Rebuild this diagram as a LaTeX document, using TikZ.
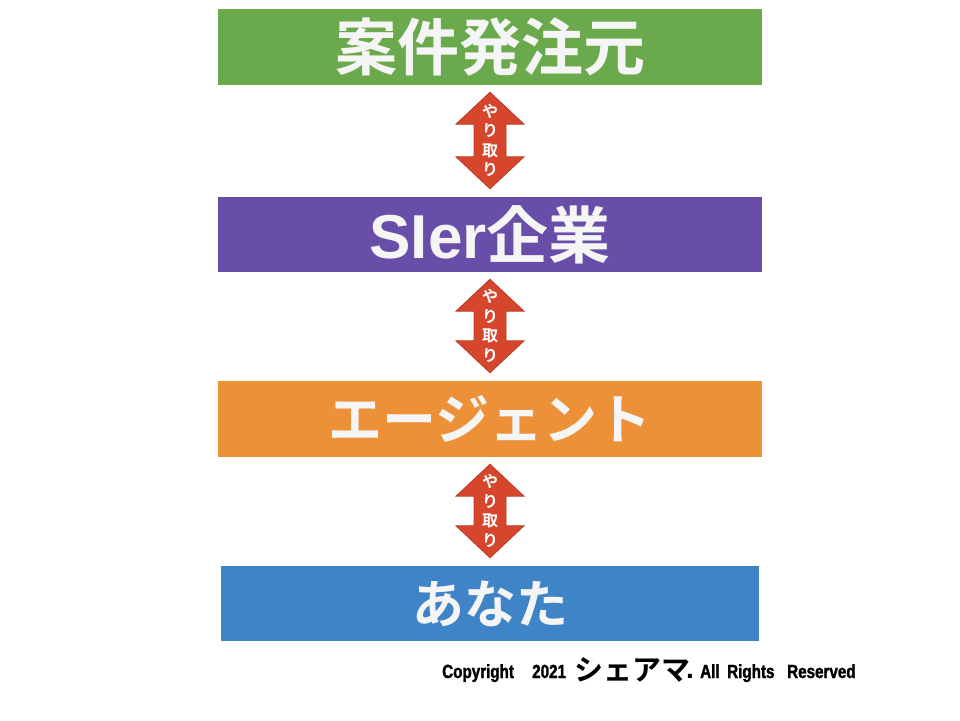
\documentclass[tikz,border=0pt]{standalone}
\usepackage{fontspec}
\usetikzlibrary{calc}
\newfontfamily\cjkb{Noto Sans CJK JP}[UprightFont=* Bold]
\newfontfamily\lsb{Liberation Sans}[UprightFont=* Bold]
\newfontfamily\cond{Liberation Sans}[UprightFont=* Bold, FakeStretch=0.8, FakeBold=1.6]
\definecolor{cgreen}{HTML}{6AAA4C}
\definecolor{cpurple}{HTML}{684EA8}
\definecolor{corange}{HTML}{EC9138}
\definecolor{cblue}{HTML}{3F84C6}
\definecolor{cred}{HTML}{D6462C}
\definecolor{credge}{HTML}{B83A22}
\definecolor{boxtext}{HTML}{F5F5F5}
\newcommand\yaritori[2]{%
  \path ($(#1.south)+(0,7)$) coordinate (#1t) ($(#2.north)+(0,-8)$) coordinate (#2b);
  \filldraw[dblarrow] (#1t) -- ++(34,32) -- ++(-18,0) -- ($(#2b)+(16,-32)$) -- ++(18,0) -- (#2b)
     -- ++(-34,-32) -- ++(18,0) -- ($(#1t)+(-16,32)$) -- ++(-18,0) -- cycle;
  \node[yt] (#1y) at ($(#1t)!0.5!(#2b)$) {や\\り\\取\\り};
}
\begin{document}
\begin{tikzpicture}[x=1pt,y=-1pt,
  box/.style={rectangle, inner sep=0pt, minimum width=544pt, minimum height=76pt, text=boxtext},
  dblarrow/.style={fill=cred, draw=credge, line width=0.8pt, line join=miter},
  yt/.style={inner sep=0pt, align=center, text=white, font=\fontsize{16}{19.5}\selectfont\cjkb},
  copy/.style={inner sep=0pt, anchor=base west, text=black, font=\fontsize{19}{19}\selectfont\cond}]
\useasboundingbox[fill=white] (0,0) rectangle (960,720);
\node[box, fill=cgreen] (n1) at (490,47) {\fontsize{62}{62}\selectfont\cjkb 案件発注元};
\node[box, fill=cpurple, minimum height=75pt] (n2) at (490,234.5) {\fontsize{62}{62}\selectfont\lsb SIer\cjkb 企業};
\node[box, fill=corange] (n3) at (490,419) {\fontsize{54}{54}\selectfont\cjkb エージェント};
\node[box, fill=cblue, minimum width=538pt, minimum height=75pt] (n4) at (490,603.5) {\fontsize{52}{52}\selectfont\cjkb あなた};
\yaritori{n1}{n2}
\yaritori{n2}{n3}
\yaritori{n3}{n4}
\node[copy] (c1) at (442,678) {Copyright};
\node[copy] (c2) at (532,678) {2021};
\node[copy, font=\fontsize{29}{29}\selectfont\cjkb] (c3) at (574,680) {シェアマ};
\node[copy, font=\fontsize{28}{28}\selectfont\lsb] (c4) at (686,678) {.};
\node[copy] (c5) at (700,678) {All};
\node[copy] (c6) at (727,678) {Rights};
\node[copy] (c7) at (787,678) {Reserved};
\end{tikzpicture}
\end{document}
